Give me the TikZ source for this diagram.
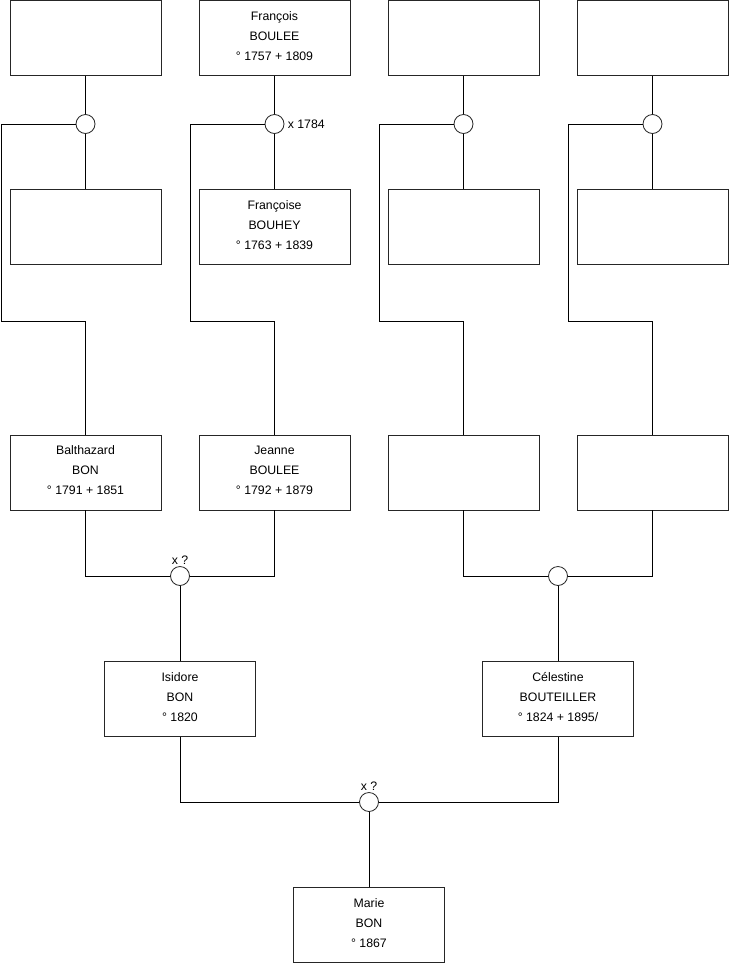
\documentclass[tikz,border=0pt]{standalone}
\usepackage{fontspec}
\setmainfont{Liberation Sans}
\usepackage{tikz}
\usetikzlibrary{positioning}

\begin{document}
\begin{tikzpicture}[x=1pt,y=-1pt,line width=0.8pt,
  pers/.style={draw=black!85,rectangle,minimum width=151pt,minimum height=75pt,inner sep=0pt,align=center,font=\fontsize{12}{20}\selectfont},
  ptext/.style={align=center,font=\fontsize{12.3}{20}\selectfont},
  union/.style={draw=black!85,circle,fill=white,minimum size=19pt,inner sep=0pt},
  mlabel/.style={font=\fontsize{12.3}{14}\selectfont,inner sep=1pt}]
\useasboundingbox (0,0) rectangle (740,975);
% generation 4
\node[pers] (t1) at (85.5,38) {};
\node[pers] (t2) at (274.5,38) {};
\node[ptext] (t2txt) at (274.5,36) {François\\BOULEE\\° 1757 + 1809};
\node[pers] (t3) at (463.5,38) {};
\node[pers] (t4) at (652.5,38) {};
\node[pers] (m1) at (85.5,227) {};
\node[pers] (m2) at (274.5,227) {};
\node[ptext] (m2txt) at (274.5,225) {Françoise\\BOUHEY\\° 1763 + 1839};
\node[pers] (m3) at (463.5,227) {};
\node[pers] (m4) at (652.5,227) {};
% unions
\node[union] (u1) at (85.5,124) {};
\node[union] (u2) at (274.5,124) {};
\node[union] (u3) at (463.5,124) {};
\node[union] (u4) at (652.5,124) {};
\node[mlabel,right=2pt of u2] (x2) {x 1784};
% generation 3
\node[pers] (b1) at (85.5,472.5) {};
\node[ptext] (b1txt) at (85.5,470.5) {Balthazard\\BON\\° 1791 + 1851};
\node[pers] (b2) at (274.5,472.5) {};
\node[ptext] (b2txt) at (274.5,470.5) {Jeanne\\BOULEE\\° 1792 + 1879};
\node[pers] (b3) at (463.5,472.5) {};
\node[pers] (b4) at (652.5,472.5) {};
\node[union] (u5) at (180,576) {};
\node[union] (u6) at (558,576) {};
\node[mlabel,above=0pt of u5] (x5) {x ?};
% generation 2
\node[pers] (isi) at (180,699) {};
\node[ptext] (isitxt) at (180,697) {Isidore\\BON\\° 1820};
\node[pers] (cel) at (558,699) {};
\node[ptext] (celtxt) at (558,697) {Célestine\\BOUTEILLER\\° 1824 + 1895/};
\node[union] (u7) at (369,802) {};
\node[mlabel,above=0pt of u7] (x7) {x ?};
% generation 1
\node[pers] (mar) at (369,925) {};
\node[ptext] (martxt) at (369,923) {Marie\\BON\\° 1867};
% corners
\coordinate (k1) at (1.5,321);
\coordinate (k2) at (190.5,321);
\coordinate (k3) at (379.5,321);
\coordinate (k4) at (568.5,321);
% lines
\foreach \i in {1,2,3,4} {
  \draw (t\i.south) -- (u\i.north);
  \draw (u\i.south) -- (m\i.north);
  \draw (u\i.west) -- (k\i |- u\i) -- (k\i) -| (b\i.north);
}
\draw (b1.south) |- (u5.west);
\draw (b2.south) |- (u5.east);
\draw (u5.south) -- (isi.north);
\draw (b3.south) |- (u6.west);
\draw (b4.south) |- (u6.east);
\draw (u6.south) -- (cel.north);
\draw (isi.south) |- (u7.west);
\draw (cel.south) |- (u7.east);
\draw (u7.south) -- (mar.north);
\end{tikzpicture}
\end{document}
